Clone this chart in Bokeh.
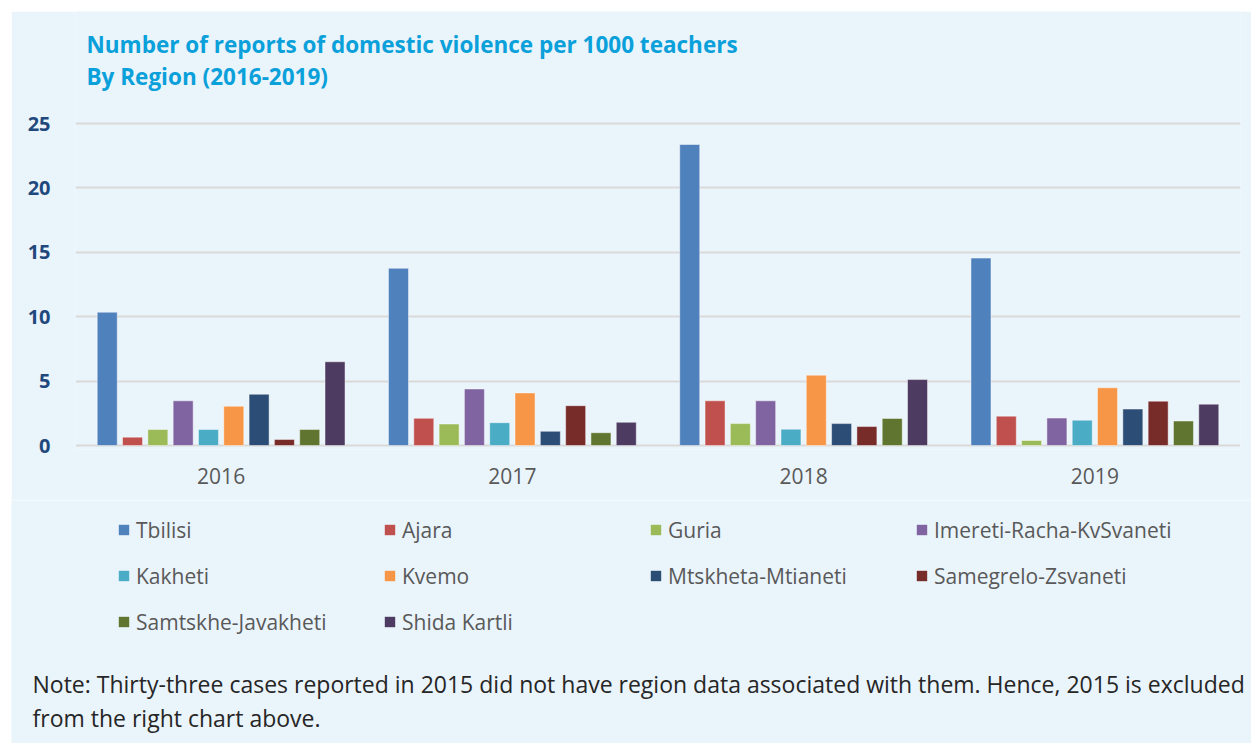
import numpy as np
from bokeh.plotting import figure
from bokeh.layouts import column, row, Spacer
from bokeh.models import (FactorRange, Range1d, Label, Legend, LegendItem,
                          ColumnDataSource, FixedTicker)
from bokeh.transform import dodge
from bokeh.embed import file_html
from bokeh.resources import INLINE

years = ["2016", "2017", "2018", "2019"]
regions = ["Tbilisi", "Ajara", "Guria", "Imereti-Racha-KvSvaneti", "Kakheti",
           "Kvemo", "Mtskheta-Mtianeti", "Samegrelo-Zsvaneti",
           "Samtskhe-Javakheti", "Shida Kartli"]
tbilisi = [10.35, 13.76, 23.37, 14.55]
ajara = [0.65, 2.11, 3.47, 2.28]
guria = [1.24, 1.67, 1.70, 0.39]
imereti = [3.47, 4.39, 3.47, 2.13]
kakheti = [1.24, 1.77, 1.27, 1.97]
kvemo = [3.05, 4.08, 5.46, 4.48]
mtskheta = [3.98, 1.10, 1.70, 2.83]
samegrelo = [0.47, 3.09, 1.47, 3.44]
samtskhe = [1.24, 0.99, 2.10, 1.90]
shida = [6.50, 1.80, 5.12, 3.21]
y_ticks = [0, 5, 10, 15, 20, 25]
title_lines = ["Number of reports of domestic violence per 1000 teachers",
               "By Region (2016-2019)"]
note_lines = ["Note: Thirty-three cases reported in 2015 did not have region data associated with them. Hence, 2015 is excluded",
              "from the right chart above."]

series = [tbilisi, ajara, guria, imereti, kakheti, kvemo, mtskheta,
          samegrelo, samtskhe, shida]
colors = ["#4F81BD", "#C0504D", "#9BBB59", "#8064A2", "#4BACC6", "#F79646",
          "#2C4D75", "#772C2A", "#5F7530", "#4D3B62"]

BG = "#EAF4FB"
FONT = "Open Sans"
OFF = 11            # white band at top/left of the panel
TOTAL_W, TOTAL_H = 1251, 743
W = TOTAL_W - OFF
SPLIT = 500         # page y where the chart part ends
HA = SPLIT - OFF
HB = TOTAL_H - SPLIT

# ---- chart figure ----
data = {"year": years}
for i, s in enumerate(series):
    data["s%d" % i] = s
src = ColumnDataSource(data)

frame_left, frame_right = 75, 1240
zero_px, top25_px, frame_bot_px = 445, 123, 449
ppu = (zero_px - top25_px) / 25.0
y_end = (zero_px - OFF) / ppu
y_start = -(frame_bot_px - zero_px) / ppu

p = figure(width=W, height=HA, output_backend="svg", toolbar_location=None,
           x_range=FactorRange(*years, range_padding=0),
           y_range=Range1d(y_start, y_end),
           min_border_left=frame_left - OFF,
           min_border_right=TOTAL_W - frame_right,
           min_border_top=0, min_border_bottom=SPLIT - frame_bot_px,
           frame_align=False)
p.background_fill_color = BG
p.border_fill_color = BG
p.outline_line_color = None

step = 0.0869
w = 0.0687
for i, col in enumerate(colors):
    p.vbar(x=dodge("year", (i - 4.5) * step, range=p.x_range),
           top="s%d" % i, width=w, bottom=0, source=src,
           fill_color=col, line_color="white", line_alpha=0.45, line_width=1)

p.xgrid.grid_line_color = None
p.ygrid.grid_line_color = "#D9D9D9"
p.ygrid.grid_line_width = 2
p.yaxis.ticker = FixedTicker(ticks=y_ticks)
p.yaxis.axis_line_color = None
p.yaxis.major_tick_line_color = None
p.yaxis.minor_tick_line_color = None
p.yaxis.major_label_standoff = 19
p.yaxis.major_label_text_font = FONT
p.yaxis.major_label_text_font_style = "bold"
p.yaxis.major_label_text_font_size = "20px"
p.yaxis.major_label_text_color = "#1F497D"

p.xaxis.axis_line_color = None
p.xaxis.major_tick_line_color = None
p.xaxis.minor_tick_line_color = None
p.xaxis.major_label_standoff = 12
p.xaxis.major_label_text_font = FONT
p.xaxis.major_label_text_font_size = "21px"
p.xaxis.major_label_text_color = "#595959"

for txt, yy in zip(title_lines, [frame_bot_px - 44, frame_bot_px - 76]):
    p.add_layout(Label(x=86 - frame_left, y=yy, x_units="screen",
                       y_units="screen", text=txt, text_font=FONT,
                       text_font_style="bold", text_font_size="22.5px",
                       text_color="#0AA0DA", text_baseline="middle"))

# ---- legend + note figure ----
q = figure(width=W, height=HB, output_backend="svg", toolbar_location=None,
           x_range=Range1d(0, W), y_range=Range1d(0, HB),
           x_axis_type=None, y_axis_type=None,
           min_border=0, min_border_left=0, min_border_right=0,
           min_border_top=0, min_border_bottom=0, frame_align=False)
q.background_fill_color = BG
q.border_fill_color = BG
q.outline_line_color = None
q.grid.visible = False

items = []
for name, col in zip(regions, colors):
    # legend swatch only: a single NaN point, nothing is drawn on the canvas
    r = q.vbar(x=[np.nan], top=[np.nan], width=1, fill_color=col,
               line_color=None)
    items.append(LegendItem(label=name, renderers=[r]))

legend = Legend(items=items, orientation="horizontal", ncols=4,
                location=(117 - OFF, TOTAL_H - 636),
                glyph_width=13, glyph_height=13, label_standoff=6,
                label_width=230, label_height=29, spacing=17,
                padding=0, margin=0, border_line_color=None,
                background_fill_alpha=0,
                label_text_font=FONT, label_text_font_size="21px",
                label_text_color="#595959")
q.add_layout(legend)

for txt, yy in zip(note_lines, [683, 717]):
    q.add_layout(Label(x=32 - OFF, y=TOTAL_H - yy, x_units="screen",
                       y_units="screen", text=txt, text_font=FONT,
                       text_font_size="23px", text_color="#262626",
                       text_baseline="middle"))

layout = column(Spacer(height=OFF, width=TOTAL_W),
                row(Spacer(width=OFF, height=HA + HB), column(p, q, spacing=0),
                    spacing=0),
                spacing=0)
open("out.html", "w").write(file_html(layout, INLINE))
